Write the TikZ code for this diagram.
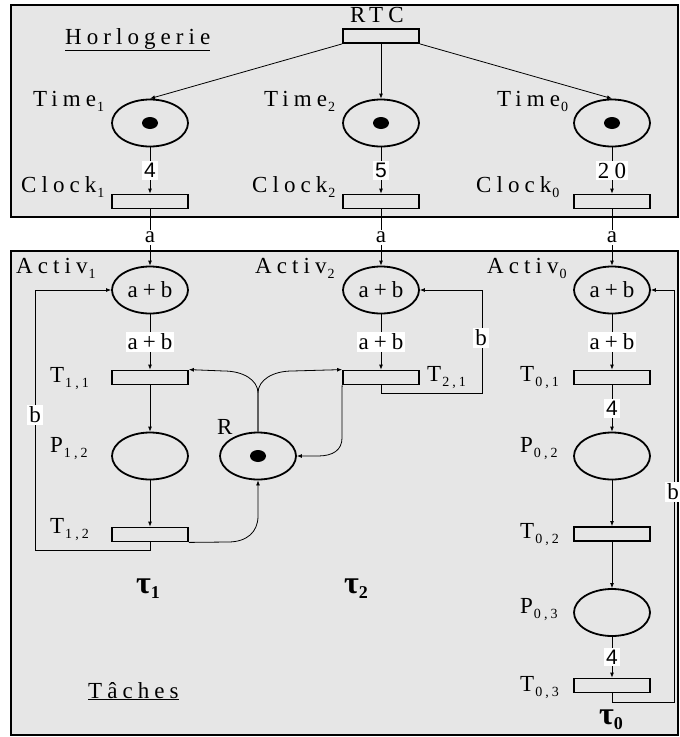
\documentclass[tikz,border=0pt]{standalone}
\usepackage{fontspec}
\setmainfont{Liberation Serif}[LetterSpace=22]
\newfontfamily\sansnum{Liberation Sans}
\newfontfamily\taufont{Liberation Serif}[BoldFont={Liberation Serif Bold}]
\usetikzlibrary{arrows.meta,shapes.geometric}
\definecolor{bg}{HTML}{E6E6E6}
\newcommand\fs{\fontsize{23}{25}\selectfont}
\newcommand\sbs[1]{\hspace{1pt}\raisebox{-5pt}{\fontsize{14}{14}\selectfont #1}}
\newcommand\tausym[1]{{\taufont\bfseries τ\raisebox{-5pt}{\fontsize{18}{18}\selectfont #1}}}
\tikzset{
  pnode/.style={ellipse, draw, line width=1.8pt, minimum width=76pt, minimum height=47pt, inner sep=0pt, font=\fs},
  tnode/.style={rectangle, draw, line width=1.8pt, minimum width=76pt, minimum height=14pt, inner sep=0pt},
  flow/.style={-{Latex[length=5pt,width=4pt]}, line width=0.8pt},
  wlbl/.style={fill=white, inner sep=2pt, font=\fs},
  nlab/.style={inner sep=0pt, font=\fs},
  fbox/.style={draw, fill=bg, line width=2.2pt},
  taul/.style={inner sep=0pt, font=\fontsize{32}{32}\selectfont},
}
\begin{document}
\begin{tikzpicture}[x=1pt, y=-1pt]
\useasboundingbox (0,0) rectangle (680,737);
% frames
\draw[fbox] (11,5) rectangle (678,217);
\draw[fbox] (11,251) rectangle (678,735);

% Horlogerie
\node[nlab, anchor=base west] (horl) at (65,44) {\underline{Horlogerie}};
\node[tnode] (rtc) at (381,36) {};
\node[nlab, anchor=base west] (rtcl) at (350,22) {RTC};

\node[pnode] (t1) at (150,123) {};
\node[pnode] (t2) at (381,123) {};
\node[pnode] (t0) at (612,123) {};
\fill (150,123) ellipse (8 and 6);
\fill (381,123) ellipse (8 and 6);
\fill (612,123) ellipse (8 and 6);
\node[nlab, anchor=base west] (t1l) at (33,106) {Time\sbs{1}};
\node[nlab, anchor=base west] (t2l) at (264,106) {Time\sbs{2}};
\node[nlab, anchor=base west] (t0l) at (497,106) {Time\sbs{0}};

\node[tnode] (c1) at (150,201.5) {};
\node[tnode] (c2) at (381,201.5) {};
\node[tnode] (c0) at (612,201.5) {};
\node[nlab, anchor=base west] (c1l) at (21,192) {Clock\sbs{1}};
\node[nlab, anchor=base west] (c2l) at (252,192) {Clock\sbs{2}};
\node[nlab, anchor=base west] (c0l) at (476,192) {Clock\sbs{0}};

\draw[flow] (rtc.south west) -- (t1.north);
\draw[flow] (rtc.south) -- (t2.north);
\draw[flow] (rtc.south east) -- (t0.north);
\draw[flow] (t1) -- node[wlbl, font=\fontsize{21}{23}\sansnum] (w1) {4} (c1);
\draw[flow] (t2) -- node[wlbl, font=\fontsize{21}{23}\sansnum] (w2) {5} (c2);
\draw[flow] (t0) -- node[wlbl] (w0) {20} (c0);

% Taches
\node[pnode] (a1) at (150,290) {a+b};
\node[pnode] (a2) at (381,290) {a+b};
\node[pnode] (a0) at (612,290) {a+b};
\node[nlab, anchor=base west] (a1l) at (16,273) {Activ\sbs{1}};
\node[nlab, anchor=base west] (a2l) at (255,273) {Activ\sbs{2}};
\node[nlab, anchor=base west] (a0l) at (487,273) {Activ\sbs{0}};

\draw[flow] (c1) -- node[wlbl] (x1) {a} (a1);
\draw[flow] (c2) -- node[wlbl] (x2) {a} (a2);
\draw[flow] (c0) -- node[wlbl] (x0) {a} (a0);

\node[tnode] (t11) at (150,377.5) {};
\node[tnode] (t21) at (381,377.5) {};
\node[tnode] (t01) at (612,377.5) {};
\node[nlab, anchor=base west] (t11l) at (50,382) {T\sbs{1,1}};
\node[nlab, anchor=base west] (t21l) at (427,381) {T\sbs{2,1}};
\node[nlab, anchor=base west] (t01l) at (520,381) {T\sbs{0,1}};

\draw[flow] (a1) -- node[wlbl] (y1) {a+b} (t11);
\draw[flow] (a2) -- node[wlbl] (y2) {a+b} (t21);
\draw[flow] (a0) -- node[wlbl] (y0) {a+b} (t01);

\node[pnode] (p12) at (150,456) {};
\node[pnode] (R) at (258,456) {};
\fill (258,456) ellipse (8 and 6);
\node[pnode] (p02) at (612,456) {};
\node[nlab, anchor=base west] (p12l) at (50,452) {P\sbs{1,2}};
\node[nlab, anchor=base west] (Rl) at (217,434) {R};
\node[nlab, anchor=base west] (p02l) at (520,452) {P\sbs{0,2}};

\node[tnode] (t12) at (150,534.5) {};
\node[tnode] (t02) at (612,534) {};
\node[nlab, anchor=base west] (t12l) at (50,533) {T\sbs{1,2}};
\node[nlab, anchor=base west] (t02l) at (520,538) {T\sbs{0,2}};

\node[pnode] (p03) at (612,612.5) {};
\node[nlab, anchor=base west] (p03l) at (520,613) {P\sbs{0,3}};
\node[tnode] (t03) at (612,685.5) {};
\node[nlab, anchor=base west] (t03l) at (520,691) {T\sbs{0,3}};

\draw[flow] (t11) -- (p12);
\draw[flow] (p12) -- (t12);
\draw[flow] (t01) -- node[wlbl, font=\fontsize{21}{23}\sansnum] (z1) {4} (p02);
\draw[flow] (p02) -- (t02);
\draw[flow] (t02) -- (p03);
\draw[flow] (p03) -- node[wlbl, font=\fontsize{21}{23}\sansnum] (z2) {4} (t03);

% feedback arcs
\coordinate (fb1) at (35,550);
\coordinate (fb2) at (482,393);
\coordinate (fb0) at (674,702);
\draw[flow] (t12.south) |- (fb1) |- (a1.west);
\draw[flow] (t21.south) |- (fb2) |- (a2.east);
\draw[flow] (t03.south) |- (fb0) |- (a0.east);
\node[wlbl] (b1) at (35,415) {b};
\node[wlbl] (b2) at (481,338) {b};
\node[wlbl] (b0) at (673,492) {b};

% resource R
\coordinate (rs) at (258,393);
\draw[flow] (R.north) -- (rs) .. controls (258,380) and (243,371) .. (224,371) -- (t11.north east);
\draw[flow] (R.north) -- (rs) .. controls (258,380) and (273,371) .. (292,371) -- (t21.north west);
\draw[flow] (t21.south west) -- (342,438) .. controls (342,450) and (333,456) .. (318,456) -- (R.east);
\draw[flow] (t12.south east) -- (228,542) .. controls (247,542) and (258,532) .. (258,516) -- (R.south);

% tau labels
\node[taul] (tau1) at (148,589) {\tausym{1}};
\node[taul] (tau2) at (356,589) {\tausym{2}};
\node[taul] (tau0) at (611,720) {\tausym{0}};
\node[nlab, anchor=base west] (tach) at (88,698) {\underline{Tâches}};
\end{tikzpicture}
\end{document}
